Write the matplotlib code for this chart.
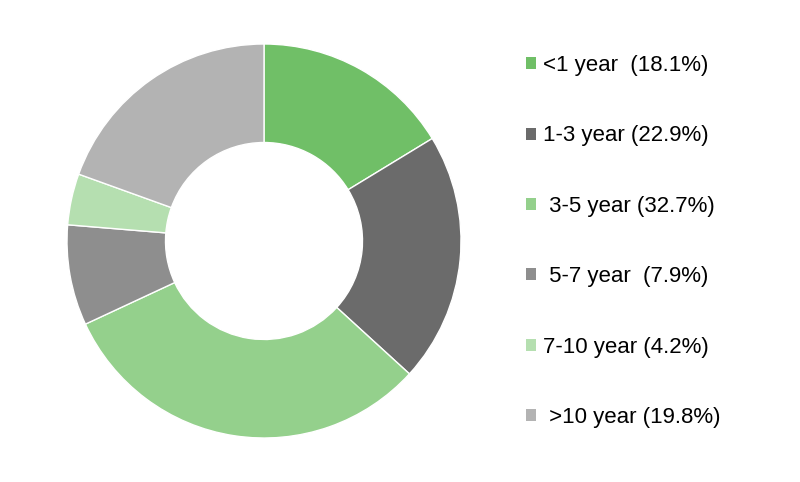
import matplotlib
matplotlib.use("Agg")
import matplotlib.pyplot as plt

labels = ["<1 year  (18.1%)", "1-3 year (22.9%)", " 3-5 year (32.7%)",
          " 5-7 year  (7.9%)", "7-10 year (4.2%)", " >10 year (19.8%)"]
values = [16.3, 20.5, 31.3, 8.25, 4.2, 19.5]
colors = ["#70BF67", "#6B6B6B", "#94D08C", "#8E8E8E", "#B5DFB0", "#B3B3B3"]

plt.rcParams['font.family'] = ['Liberation Sans', 'DejaVu Sans']

fig = plt.figure(figsize=(8, 4.82), dpi=100)
ax = fig.add_axes([67/800, 44/482, 394/800, 394/482])
wedges, _ = ax.pie(values, colors=colors, startangle=90, counterclock=False,
                   radius=1.0,
                   wedgeprops=dict(width=0.5, edgecolor="white", linewidth=1.0))
ax.set_xlim(-1, 1)
ax.set_ylim(-1, 1)
ax.set_aspect("equal")

leg = fig.legend(wedges, labels, loc="upper left",
                 bbox_to_anchor=(526/800, 1 - 55/482),
                 frameon=False, fontsize=16,
                 handlelength=0.45, handleheight=0.45, handletextpad=0.3,
                 labelspacing=2.225, borderpad=0, borderaxespad=0)
for h in leg.legend_handles:
    h.set_edgecolor("none")

fig.savefig("out.png", dpi=100)
